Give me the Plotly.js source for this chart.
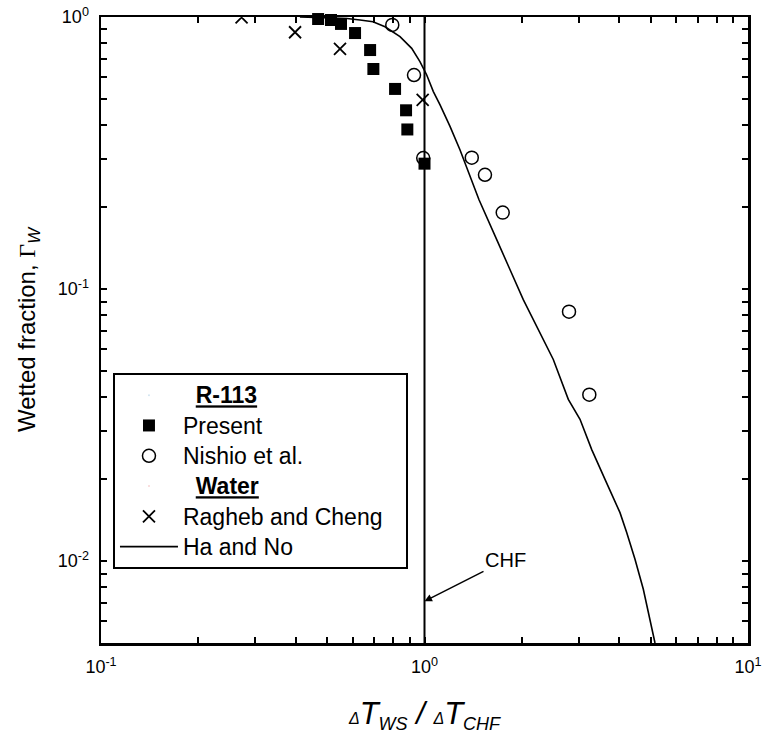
<!DOCTYPE html>
<html><head><meta charset="utf-8">
<script src="https://cdn.plot.ly/plotly-3.0.1.min.js"></script>
<style>html,body{margin:0;padding:0;background:#fff;} #chart{width:764px;height:737px;}</style>
</head><body><div id="chart"></div>
<script>
// ---- data ----
const presentX = [0.469, 0.514, 0.552, 0.610, 0.679, 0.695, 0.811, 0.877, 0.885, 1.0];
const presentY = [0.983, 0.975, 0.943, 0.873, 0.756, 0.644, 0.544, 0.454, 0.386, 0.289];

const nishioX = [0.795, 0.928, 0.991, 1.40, 1.538, 1.745, 2.797, 3.232];
const nishioY = [0.935, 0.612, 0.303, 0.304, 0.263, 0.191, 0.0826, 0.0409];

const raghebX = [0.272, 0.398, 0.548, 0.987];
const raghebY = [0.997, 0.879, 0.763, 0.496];

const haNoX = [0.412, 0.576, 0.632, 0.693, 0.755, 0.840, 0.913, 0.968, 1.016, 1.065, 1.117, 1.199, 1.287, 1.399, 1.474, 1.672, 1.816, 2.020, 2.501, 2.783, 3.025, 3.288, 3.614, 4.021, 4.217, 4.474, 4.747, 4.980, 5.159];
const haNoY = [1.0, 0.987, 0.975, 0.961, 0.921, 0.847, 0.767, 0.685, 0.612, 0.532, 0.475, 0.396, 0.325, 0.252, 0.213, 0.152, 0.1211, 0.0914, 0.0551, 0.0393, 0.0332, 0.0257, 0.01997, 0.01507, 0.01273, 0.01015, 0.00788, 0.00611, 0.005];

const chfX = [1, 1];
const chfY = [1, 0.005];
const chfArrowY = 0.00712;

const xTickVals = [0.1, 0.2,0.3,0.4,0.5,0.6,0.7,0.8,0.9, 1, 2,3,4,5,6,7,8,9, 10];
const xTickText = ['10<sup>-1</sup>', '','','','','','','','', '10<sup>0</sup>', '','','','','','','','', '10<sup>1</sup>'];
const yTickVals = [0.006,0.007,0.008,0.009, 0.01, 0.02,0.03,0.04,0.05,0.06,0.07,0.08,0.09, 0.1, 0.2,0.3,0.4,0.5,0.6,0.7,0.8,0.9, 1];
const yTickText = ['','','','', '10<sup>-2</sup>', '','','','','','','','', '10<sup>-1</sup>', '','','','','','','','', '10<sup>0</sup>'];

const legendNames = {
  g1: 'R-113', present: 'Present', nishio: 'Nishio et al.',
  g2: 'Water', ragheb: 'Ragheb and Cheng', hano: 'Ha and No'
};

// ---- chart ----
const FONT = 'Liberation Sans, Arial, sans-serif';
const nm = t => '<span style="font-size:23px">' + t + '</span>';
const ttl = t => '<span style="font-size:23px">&nbsp;&nbsp;<b><span style="text-decoration:underline">' + t + '</span></b></span>';

const traces = [
  {x:[null], y:[null], mode:'markers', name: ttl(legendNames.g1), marker:{opacity:0, size:1}, hoverinfo:'skip'},
  {x: presentX, y: presentY, mode:'markers', name: nm(legendNames.present), cliponaxis:false,
   marker:{symbol:'square', size:12, color:'#000'}},
  {x: nishioX, y: nishioY, mode:'markers', name: nm(legendNames.nishio), cliponaxis:false,
   marker:{symbol:'circle-open', size:13, color:'#000', line:{width:1.5, color:'#000'}}},
  {x:[null], y:[null], mode:'markers', name: ttl(legendNames.g2), marker:{opacity:0, size:1}, hoverinfo:'skip'},
  {x: raghebX, y: raghebY, mode:'markers', name: nm(legendNames.ragheb) + '&nbsp;&nbsp;&nbsp;', cliponaxis:true,
   marker:{symbol:'x-thin-open', size:12, color:'#000', line:{width:1.8, color:'#000'}}},
  {x: haNoX, y: haNoY, mode:'lines', name: nm(legendNames.hano),
   line:{color:'#000', width:1.6}},
  {x: chfX, y: chfY, mode:'lines', showlegend:false, line:{color:'#000', width:2}}
];

const axisCommon = {
  type:'log', showgrid:false, zeroline:false, showline:true, linecolor:'#000', linewidth:2.5,
  mirror:'allticks', ticks:'inside', ticklen:6, tickwidth:2, tickcolor:'#000',
  tickfont:{family:FONT, size:18, color:'#000'}, tickmode:'array', ticklabelstandoff:6
};

const layout = {
  width:764, height:737,
  margin:{l:101, r:16, t:17, b:94},
  paper_bgcolor:'#fff', plot_bgcolor:'#fff',
  font:{family:FONT, color:'#000'},
  showlegend:true,
  legend:{x:0.0185, y:0.4313, xanchor:'left', yanchor:'top', bgcolor:'#fff',
    bordercolor:'#000', borderwidth:2, font:{family:FONT, size:21, color:'#000'},
    itemwidth:58, traceorder:'normal'},
  xaxis: Object.assign({}, axisCommon, {
    range:[-1, 1], tickvals:xTickVals, ticktext:xTickText,
    title:{text:'<i><span style="font-size:16px">Δ</span>T<sub><span style="font-size:18px">WS</span></sub> / <span style="font-size:16px">Δ</span>T<sub><span style="font-size:18px">CHF</span></sub></i>',
      font:{family:FONT, size:31, color:'#000'}, standoff:26}
  }),
  yaxis: Object.assign({}, axisCommon, {
    range:[Math.log10(0.005), 0], tickvals:yTickVals, ticktext:yTickText,
    title:{text:'Wetted fraction, <span style="font-family:Liberation Serif, serif">Γ</span><sub><i>W</i></sub>', font:{family:FONT, size:24, color:'#000'}, standoff:16}
  }),
  annotations:[{
    x:Math.log10(chfX[0]), y:Math.log10(chfArrowY), xref:'x', yref:'y',
    text:'CHF', font:{family:FONT, size:20, color:'#000'},
    showarrow:true, arrowhead:2, arrowsize:1, arrowwidth:1.5, arrowcolor:'#000',
    ax:81, ay:-41, standoff:0
  }]
};

Plotly.newPlot('chart', traces, layout, {displayModeBar:false, staticPlot:true});
</script>
</body></html>
